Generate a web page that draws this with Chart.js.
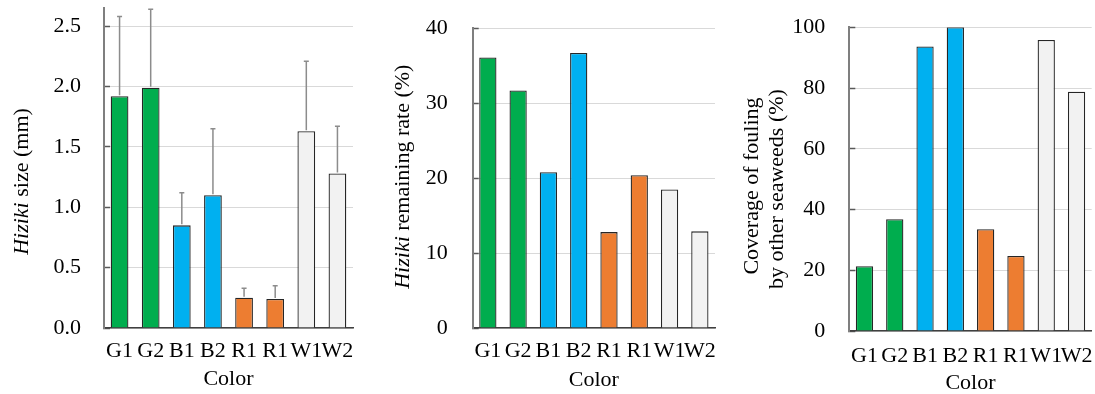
<!DOCTYPE html>
<html><head><meta charset="utf-8">
<script src="https://cdn.jsdelivr.net/npm/chart.js@4/dist/chart.umd.min.js"></script>
<style>
html,body{margin:0;padding:0;background:#fff;overflow:hidden;}
.box{position:absolute;top:0;height:394px;width:365px;}
</style></head><body>
<div class="box" style="left:0"><canvas id="c1"></canvas></div>
<div class="box" style="left:365px"><canvas id="c2"></canvas></div>
<div class="box" style="left:730px"><canvas id="c3"></canvas></div>
<script>
const categories = ['G1','G2','B1','B2','R1','R1','W1','W2'];
const barColors = ['#00AD4E','#00AD4E','#00B0F0','#00B0F0','#ED7D31','#ED7D31','#F2F2F2','#F2F2F2'];
const sizeValues = [1.92, 1.99, 0.85, 1.10, 0.25, 0.24, 1.63, 1.28];
const sizeErrors = [0.66, 0.65, 0.27, 0.55, 0.08, 0.11, 0.58, 0.39];
const remainingValues = [36.1, 31.7, 20.8, 36.7, 12.8, 20.4, 18.5, 12.9];
const coverageValues = [21.3, 36.8, 93.7, 100, 33.5, 24.7, 95.8, 78.8];
const sizeTicks = [0, 0.5, 1.0, 1.5, 2.0, 2.5];
const remainingTicks = [0, 10, 20, 30, 40];
const coverageTicks = [0, 20, 40, 60, 80, 100];

const FONT = "'Liberation Serif', 'Times New Roman', serif";
Chart.defaults.color = '#000';
Chart.defaults.font.family = FONT;
Chart.defaults.font.size = 22;

const errorBarsPlugin = {
  id: 'errBars',
  afterDatasetsDraw(chart, args, opts) {
    if (!opts.errors) return;
    const meta = chart.getDatasetMeta(0);
    const ys = chart.scales.y;
    const ctx = chart.ctx;
    ctx.save();
    ctx.strokeStyle = '#8c8c8c';
    ctx.lineWidth = 1.5;
    meta.data.forEach((bar, i) => {
      const v = chart.data.datasets[0].data[i];
      const top = ys.getPixelForValue(v + opts.errors[i]);
      ctx.beginPath();
      ctx.moveTo(bar.x, bar.y - 1);
      ctx.lineTo(bar.x, top);
      ctx.moveTo(bar.x - 2.5, top);
      ctx.lineTo(bar.x + 2.5, top);
      ctx.stroke();
    });
    ctx.restore();
  }
};

const yTitlePlugin = {
  id: 'yTitle',
  afterDraw(chart, args, opts) {
    if (!opts.lines) return;
    const ctx = chart.ctx;
    ctx.save();
    ctx.fillStyle = '#000';
    ctx.textBaseline = 'alphabetic';
    const f = it => (it ? 'italic ' : '') + '22px ' + FONT;
    opts.lines.forEach((line) => {
      let total = 0;
      const widths = line.parts.map(p => { ctx.font = f(p.italic); const w = ctx.measureText(p.text).width; total += w; return w; });
      ctx.save();
      ctx.translate(line.x, line.cy);
      ctx.rotate(-Math.PI / 2);
      let x = -total / 2;
      line.parts.forEach((p, i) => { ctx.font = f(p.italic); ctx.fillText(p.text, x, 0); x += widths[i]; });
      ctx.restore();
    });
    ctx.restore();
  }
};

function makeChart(id, values, tickValues, cfg) {
  return new Chart(document.getElementById(id), {
    type: 'bar',
    data: {
      labels: categories,
      datasets: [{
        data: values,
        backgroundColor: barColors,
        borderColor: '#262626',
        borderWidth: 1.3,
        barPercentage: 0.57,
        categoryPercentage: 1.0
      }]
    },
    options: {
      responsive: true,
      maintainAspectRatio: false,
      animation: false,
      events: [],
      layout: { padding: { left: 0, right: cfg.right, top: cfg.top, bottom: 0 } },
      plugins: {
        legend: { display: false },
        tooltip: { enabled: false },
        errBars: { errors: cfg.errors },
        yTitle: { lines: cfg.titleLines }
      },
      scales: {
        x: {
          grid: { display: false, drawTicks: false },
          border: { display: true, color: '#404040', width: 1.5 },
          ticks: { padding: cfg.xPad, maxRotation: 0, autoSkip: false, font: { size: 22 } },
          title: { display: true, text: 'Color', font: { size: 22 }, padding: { top: 0, bottom: cfg.titlePad } },
          afterFit: s => { s.height = cfg.xHeight; s.paddingLeft = 0; s.paddingRight = 0; }
        },
        y: {
          min: 0,
          max: cfg.max,
          grid: { color: '#d9d9d9', lineWidth: 1, tickColor: '#595959', tickLength: -6, tickWidth: 1.5 },
          border: { display: true, color: '#7f7f7f', width: 2 },
          ticks: {
            includeBounds: false,
            padding: cfg.yPad,
            font: { size: 22 },
            callback: v => cfg.fmt(v)
          },
          afterBuildTicks: s => { s.ticks = tickValues.map(v => ({ value: v })); },
          afterFit: s => { s.width = cfg.yWidth; s.paddingTop = 0; s.paddingBottom = 0; }
        }
      }
    },
    plugins: [errorBarsPlugin, yTitlePlugin]
  });
}

makeChart('c1', sizeValues, sizeTicks, {
  max: 2.65, right: 12, top: 8, yWidth: 104, xHeight: 66, xPad: 10.2, titlePad: 1.3, yPad: 29,
  errors: sizeErrors, fmt: v => v.toFixed(1),
  titleLines: [{ x: 28.3, cy: 181.5, parts: [{ text: 'Hiziki', italic: true }, { text: ' size (mm)', italic: false }] }]
});
makeChart('c2', remainingValues, remainingTicks, {
  max: 40, right: 15, top: 28.3, yWidth: 107.7, xHeight: 66, xPad: 10.2, titlePad: 0.8, yPad: 31,
  errors: null, fmt: v => String(v),
  titleLines: [{ x: 44.3, cy: 176.7, parts: [{ text: 'Hiziki', italic: true }, { text: ' remaining rate (%)', italic: false }] }]
});
makeChart('c3', coverageValues, coverageTicks, {
  max: 100, right: 3.3, top: 27.3, yWidth: 119.3, xHeight: 63, xPad: 11.8, titlePad: -2.5, yPad: 30,
  errors: null, fmt: v => String(v),
  titleLines: [
    { x: 28, cy: 186, parts: [{ text: 'Coverage of fouling', italic: false }] },
    { x: 53, cy: 189, parts: [{ text: 'by other seaweeds (%)', italic: false }] }
  ]
});
</script>
</body></html>
